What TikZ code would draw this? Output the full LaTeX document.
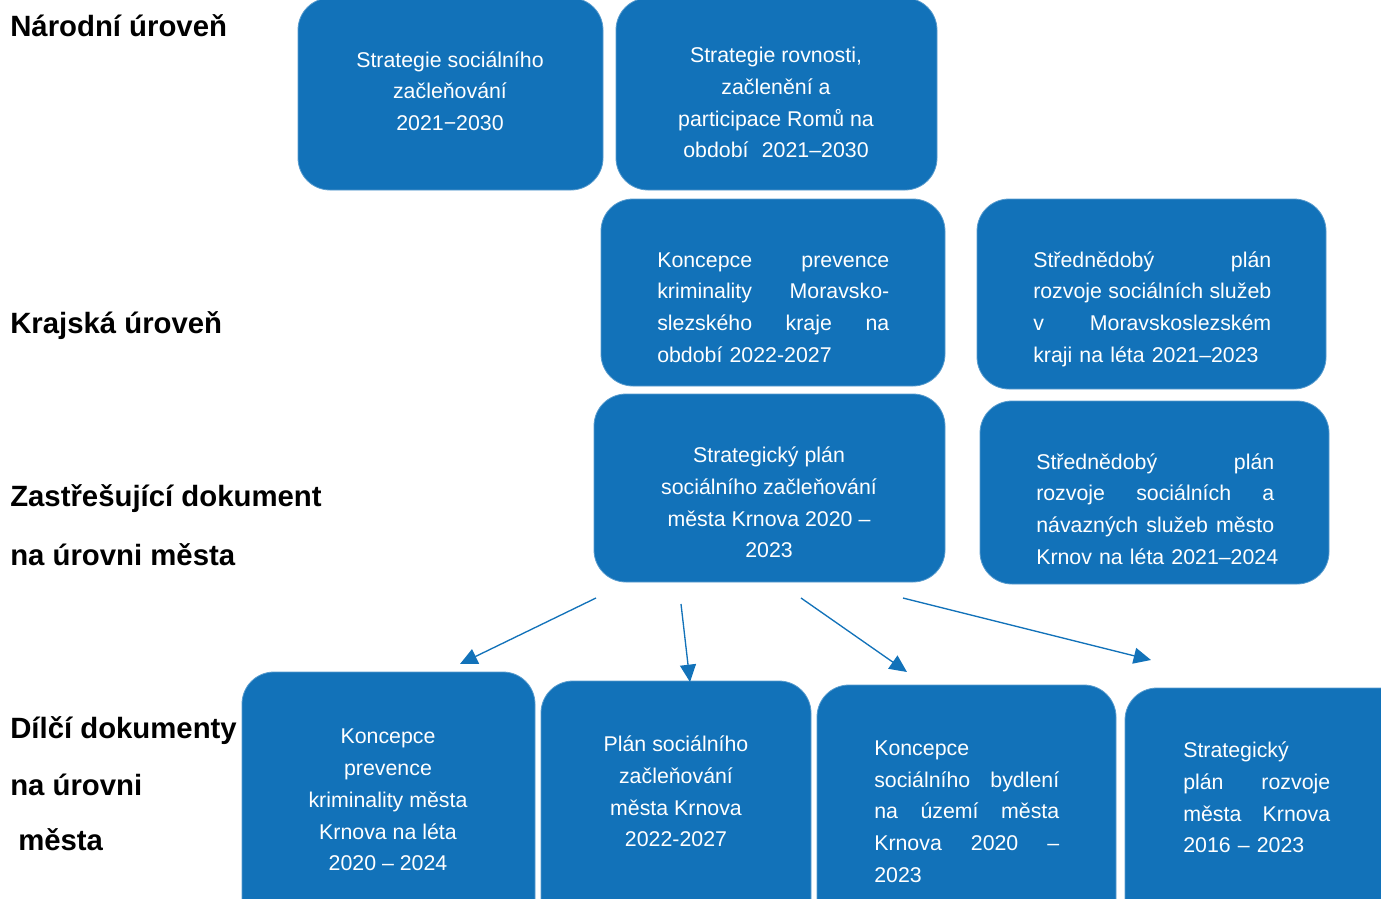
\documentclass[tikz,border=0pt]{standalone}
\usepackage{fontspec}
\setmainfont{Liberation Sans}
\usetikzlibrary{arrows.meta}
\definecolor{boxblue}{RGB}{18,114,185}
\newcommand\docbox[5]{\node[box, minimum width={(#4-#2)*0.75pt}, minimum height={(#5-#3)*0.75pt}] (#1) at ({(#2+#4)/2},{(#3+#5)/2}) {};}
\begin{document}
\begin{tikzpicture}[x=0.75pt,y=-0.75pt,
  box/.style={fill=boxblue, draw=boxblue!70!white, line width=0.6pt, rounded corners=24pt, inner sep=0pt},
  ctext/.style={inner sep=0pt, text=white, align=center, font=\fontsize{16}{23.8}\selectfont},
  jtext/.style={inner sep=0pt, text=white, align=left, anchor=west, font=\fontsize{16}{23.8}\selectfont},
  level/.style={inner sep=0pt, anchor=base west, font=\fontsize{22}{26}\selectfont\bfseries},
  conn/.style={draw=boxblue, line width=1pt, -{Triangle[length=13pt,width=12pt]}}]
\useasboundingbox (0,0) rectangle (1381,899);
\clip (0,0) rectangle (1381,899);
% level labels
\node[level] (lnar) at (10,37) {Národní úroveň};
\node[level] (lkraj) at (10,333) {Krajská úroveň};
\node[level] (lzast1) at (10,506) {Zastřešující dokument};
\node[level] (lzast2) at (10,565) {na úrovni města};
\node[level] (ldil1) at (10,738) {Dílčí dokumenty};
\node[level] (ldil2) at (10,795) {na úrovni};
\node[level] (ldil3) at (18,850) {města};
% boxes
\docbox{bA}{298}{-2}{603}{190}
\docbox{bB}{616}{-2}{937}{190}
\docbox{bC}{601}{199}{945}{386}
\docbox{bD}{977}{199}{1326}{389}
\docbox{bE}{594}{394}{945}{582}
\docbox{bF}{980}{401}{1329}{584}
\docbox{bG}{242}{672}{535}{935}
\docbox{bH}{541}{681}{811}{935}
\docbox{bI}{817}{685}{1116}{935}
\docbox{bJ}{1125}{688}{1420}{935}
% texts
\node[ctext] (tA) at (450,92.5) {\strut Strategie sociálního\\začleňování\\2021−2030\strut};
\node[ctext] (tB) at (776,104) {\strut Strategie rovnosti,\\začlenění a\\participace Romů na\\období\hspace{10pt}2021–2030\strut};
\node[jtext, text width={232*0.75pt}] (tC) at (657,308.5) {\strut Koncepce\hfill prevence\\kriminality\hfill Moravsko-\\slezského\hfill kraje\hfill na\\\mbox{období 2022-2027}\strut};
\node[jtext, text width={238*0.75pt}] (tD) at (1033,308.5) {\strut Střednědobý\hfill plán\\rozvoje\hfill sociálních\hfill služeb\\v\hfill Moravskoslezském\\\mbox{kraji na léta 2021–2023}\strut};
\node[ctext] (tE) at (769,504) {\strut Strategický plán\\sociálního začleňování\\města Krnova 2020 –\\2023\strut};
\node[jtext, text width={238*0.75pt}] (tF) at (1036,510.5) {\strut Střednědobý\hfill plán\\rozvoje\hfill sociálních\hfill a\\návazných\hfill služeb\hfill město\\\mbox{Krnov na léta 2021–2024}\strut};
\node[ctext] (tG) at (388,801) {\strut Koncepce\\prevence\\kriminality města\\Krnova na léta\\2020 – 2024\strut};
\node[ctext] (tH) at (676,793) {\strut Plán sociálního\\začleňování\\města Krnova\\2022-2027\strut};
\node[jtext, text width={185*0.75pt}] (tI) at (874,812.5) {\strut Koncepce\\sociálního\hfill bydlení\\na\hfill území\hfill města\\Krnova\hfill 2020\hfill –\\2023\strut};
\node[jtext, text width={147*0.75pt}] (tJ) at (1183,799) {\strut Strategický\\plán\hfill rozvoje\\města\hfill Krnova\\\mbox{2016 – 2023}\strut};
% connectors
\coordinate (a1s) at (596,598); \coordinate (a1e) at (460,664);
\coordinate (a2s) at (681,604); \coordinate (a2e) at (690,682);
\coordinate (a3s) at (801,598); \coordinate (a3e) at (907,672);
\coordinate (a4s) at (903,598); \coordinate (a4e) at (1151,660);
\draw[conn] (a1s) -- (a1e);
\draw[conn] (a2s) -- (a2e);
\draw[conn] (a3s) -- (a3e);
\draw[conn] (a4s) -- (a4e);
\end{tikzpicture}
\end{document}
